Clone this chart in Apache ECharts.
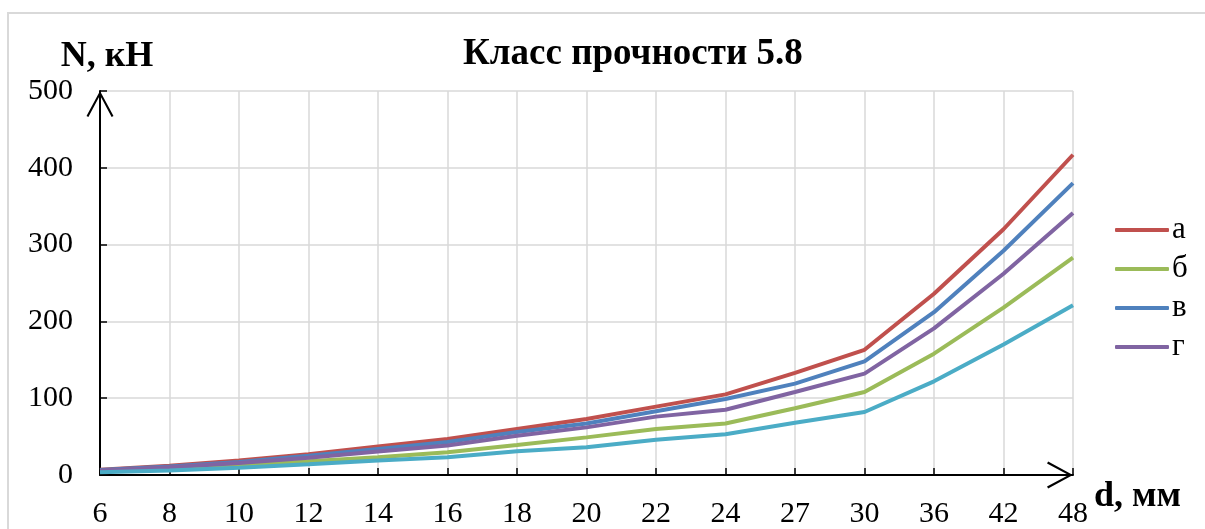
<!DOCTYPE html>
<html>
<head>
<meta charset="utf-8">
<script src="https://cdn.jsdelivr.net/npm/echarts@6/dist/echarts.min.js"></script>
<style>
  html, body { margin: 0; padding: 0; background: #fff; }
  #chart { width: 1205px; height: 529px; }
</style>
</head>
<body>
<div id="chart"></div>
<script>
// диаметры болтов, мм
const diameters = ['6', '8', '10', '12', '14', '16', '18', '20', '22', '24', '27', '30', '36', '42', '48'];

// усилия N, кН
const seriesA = [7, 12, 19, 27, 37, 47, 60, 73, 89, 105, 133, 163, 236, 320, 417];
const seriesB = [5, 8, 12.5, 18, 23, 29.5, 39, 49, 60, 67, 87, 108, 158, 218, 283];
const seriesV = [6.5, 11, 17, 25, 34, 43, 56, 67, 83, 99, 119, 148, 212, 292, 380];
const seriesG = [6, 10, 15.5, 22.5, 30.5, 38.5, 51, 62, 76, 85, 108, 132, 191, 262, 341];
const seriesD = [3.5, 6, 9.5, 14, 19, 23, 31, 36, 46, 53, 68, 82, 122, 170, 221];

const names = ['а', 'б', 'в', 'г', 'д'];
const colors = ['#C0504D', '#9BBB59', '#4F81BD', '#8064A2', '#4BACC6'];

const font = "'Liberation Serif', 'Times New Roman', serif";

// open arrow head (chevron), pointing up
const chevron = 'path://M50,0 L100,92 L93,96 L50,16 L7,96 L0,92 Z';

const chart = echarts.init(document.getElementById('chart'));

const makeLine = (name, data, color) => ({
  name: name,
  type: 'line',
  data: data,
  symbol: 'none',
  smooth: false,
  lineStyle: { color: color, width: 4 },
  itemStyle: { color: color },
  emphasis: { disabled: true }
});

const option = {
  backgroundColor: '#ffffff',
  animation: false,
  textStyle: { fontFamily: font },
  graphic: [
    {
      type: 'rect',
      shape: { x: 8, y: 13, width: 1400, height: 700 },
      style: { fill: null, stroke: '#d9d9d9', lineWidth: 2 },
      silent: true,
      z: -1
    }
  ],
  title: {
    text: 'Класс прочности 5.8',
    left: 463,
    top: 36,
    padding: 0,
    textStyle: { fontFamily: font, fontWeight: 'bold', fontSize: 37, color: '#000' }
  },
  legend: {
    data: ['а', 'б', 'в', 'г'],
    orient: 'vertical',
    left: 1115,
    top: 212,
    padding: 0,
    itemWidth: 54,
    itemHeight: 4,
    itemGap: 3,
    icon: 'roundRect',
    textStyle: { fontFamily: font, fontSize: 31, color: '#000', lineHeight: 32, padding: [4, 0, 0, -2] }
  },
  grid: { left: 100, right: 132, top: 91, bottom: 52, containLabel: false },
  xAxis: {
    type: 'category',
    data: diameters,
    boundaryGap: false,
    name: 'd, мм',
    nameLocation: 'end',
    nameGap: 12,
    nameTextStyle: {
      fontFamily: font, fontWeight: 'bold', fontSize: 36, color: '#000',
      verticalAlign: 'top', lineHeight: 44
    },
    axisLine: {
      lineStyle: { color: '#000', width: 2 },
      symbol: ['none', chevron],
      symbolSize: [27, 26],
      symbolOffset: [0, -13]
    },
    axisTick: { inside: true, length: 7, alignWithLabel: true, interval: 0, lineStyle: { color: '#000', width: 1.5 } },
    axisLabel: { interval: 0, margin: 24, fontFamily: font, fontSize: 30, color: '#000' },
    splitLine: { show: true, interval: 0, lineStyle: { color: '#d9d9d9', width: 1.5 } }
  },
  yAxis: {
    type: 'value',
    min: 0,
    max: 500,
    interval: 100,
    name: 'N, кН',
    nameLocation: 'end',
    nameGap: 16,
    nameTextStyle: { fontFamily: font, fontWeight: 'bold', fontSize: 36, color: '#000', align: 'center', padding: [0, 0, 0, 14] },
    axisLine: {
      show: true,
      lineStyle: { color: '#000', width: 2 },
      symbol: ['none', chevron],
      symbolSize: [27, 26],
      symbolOffset: [0, -13]
    },
    axisTick: { show: true, inside: true, length: 7, lineStyle: { color: '#000', width: 1.5 } },
    axisLabel: { margin: 27, fontFamily: font, fontSize: 30, color: '#000' },
    splitLine: { show: true, lineStyle: { color: '#d9d9d9', width: 1.5 } }
  },
  series: [
    makeLine(names[0], seriesA, colors[0]),
    makeLine(names[1], seriesB, colors[1]),
    makeLine(names[2], seriesV, colors[2]),
    makeLine(names[3], seriesG, colors[3]),
    makeLine(names[4], seriesD, colors[4])
  ]
};

chart.setOption(option);
</script>
</body>
</html>
